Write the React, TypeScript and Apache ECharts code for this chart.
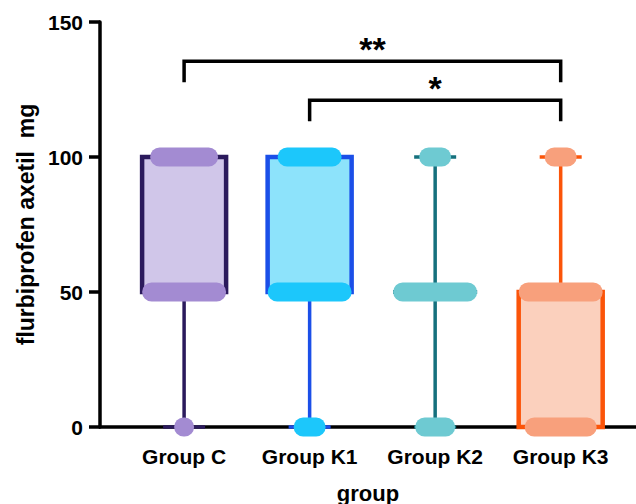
import React, { useEffect, useRef } from "react";
import * as echarts from "echarts";

const groups = ["Group C", "Group K1", "Group K2", "Group K3"];
const yTicks = [0, 50, 100, 150];

// box statistics per group
const mins = [0, 0, 0, 0];
const q1s = [50, 50, 50, 0];
const medians = [50, 50, 50, 50];
const q3s = [100, 100, 50, 50];
const maxs = [100, 100, 100, 100];

// number of overlapping points at each dose level
const levels = [0, 50, 100];
const countsC = [1, 17, 13];
const countsK1 = [4, 17, 12];
const countsK2 = [6, 17, 4];
const countsK3 = [14, 17, 4];

// significance brackets
const bracketFrom = [1, 2];
const bracketTo = [4, 4];
const bracketY = [135.5, 121];
const bracketLabel = ["**", "*"];

const strokeColors = ["#2b1a5c", "#1b4fe8", "#15707d", "#fb5409"];
const fillColors = ["#d0c6e9", "#8de3fb", "transparent", "#fbd0bd"];
const pillColors = ["#a38bd2", "#1cc7fb", "#6ecad2", "#f8a07c"];

const FONT = "'Liberation Sans', Arial, Helvetica, sans-serif";

export default function App() {
  const ref = useRef<HTMLDivElement>(null);
  useEffect(() => {
    if (!ref.current) return;
    const chart = echarts.init(ref.current, null, { renderer: "svg" });

    const boxData = groups.map((_, i) => [i + 1, mins[i], q1s[i], medians[i], q3s[i], maxs[i]]);
    const allCounts = [countsC, countsK1, countsK2, countsK3];
    const pillData: number[][] = [];
    allCounts.forEach((cs, gi) => {
      cs.forEach((n, li) => {
        if (n > 0) pillData.push([gi + 1, levels[li], n, gi]);
      });
    });
    const bracketData = bracketFrom.map((f, i) => [f, bracketTo[i], bracketY[i], i]);

    const option: any = {
      animation: false,
      grid: {
        left: 100,
        right: 0,
        top: 22,
        bottom: 77,
        containLabel: false,
        outerBoundsMode: "none",
      },
      xAxis: {
        type: "value",
        min: 0.33,
        max: 4.6,
        splitLine: { show: false },
        axisLine: { show: true, onZero: false, lineStyle: { color: "#000", width: 3.5 } },
        axisTick: {
          show: true,
          customValues: [1, 2, 3, 4],
          length: 6,
          lineStyle: { color: "#000", width: 3 },
        },
        axisLabel: {
          customValues: [1, 2, 3, 4],
          formatter: (v: number) => groups[Math.round(v) - 1] ?? "",
          color: "#000",
          fontFamily: FONT,
          fontWeight: "bold",
          fontSize: 21,
          margin: 19,
        },
        name: "group",
        nameLocation: "middle",
        nameGap: 55,
        nameTextStyle: { color: "#000", fontFamily: FONT, fontWeight: "bold", fontSize: 22 },
      },
      yAxis: {
        type: "value",
        min: 0,
        max: 150,
        interval: 50,
        splitLine: { show: false },
        axisLine: { show: true, lineStyle: { color: "#000", width: 3.5 } },
        axisTick: { show: true, length: 11, lineStyle: { color: "#000", width: 3.5 } },
        axisLabel: {
          color: "#000",
          fontFamily: FONT,
          fontWeight: "bold",
          fontSize: 21,
          margin: 17,
          formatter: (v: number) => (yTicks.includes(v) ? String(v) : ""),
        },
        name: "flurbiprofen axetil  mg",
        nameLocation: "middle",
        nameGap: 63,
        nameTextStyle: { color: "#000", fontFamily: FONT, fontWeight: "bold", fontSize: 23 },
      },
      series: [
        {
          type: "custom",
          z: 3,
          data: boxData,
          renderItem: (params: any, api: any) => {
            const i = params.dataIndex;
            const x = api.value(0);
            const pMin = api.coord([x, api.value(1)]);
            const pQ1 = api.coord([x, api.value(2)]);
            const pMed = api.coord([x, api.value(3)]);
            const pQ3 = api.coord([x, api.value(4)]);
            const pMax = api.coord([x, api.value(5)]);
            const cx = pQ1[0];
            const hw = 42;
            const cw = 21;
            const color = strokeColors[i];
            const children: any[] = [];
            if (pQ1[1] - pQ3[1] > 0.5) {
              children.push({
                type: "rect",
                shape: { x: cx - hw, y: pQ3[1], width: hw * 2, height: pQ1[1] - pQ3[1] },
                style: { fill: fillColors[i], stroke: color, lineWidth: 4.5 },
              });
            }
            children.push({
              type: "line",
              shape: { x1: cx - hw, y1: pMed[1], x2: cx + hw, y2: pMed[1] },
              style: { stroke: color, lineWidth: 4 },
            });
            if (pMax[1] < pQ3[1] - 0.5) {
              children.push({
                type: "line",
                shape: { x1: cx, y1: pQ3[1], x2: cx, y2: pMax[1] },
                style: { stroke: color, lineWidth: 3.5 },
              });
              children.push({
                type: "line",
                shape: { x1: cx - cw, y1: pMax[1], x2: cx + cw, y2: pMax[1] },
                style: { stroke: color, lineWidth: 3.5 },
              });
            }
            if (pMin[1] > pQ1[1] + 0.5) {
              children.push({
                type: "line",
                shape: { x1: cx, y1: pQ1[1], x2: cx, y2: pMin[1] },
                style: { stroke: color, lineWidth: 3.5 },
              });
              children.push({
                type: "line",
                shape: { x1: cx - cw, y1: pMin[1], x2: cx + cw, y2: pMin[1] },
                style: { stroke: color, lineWidth: 3.5 },
              });
            }
            return { type: "group", children };
          },
        },
        {
          type: "custom",
          z: 4,
          data: pillData,
          renderItem: (params: any, api: any) => {
            const p = api.coord([api.value(0), api.value(1)]);
            const n = api.value(2);
            const gi = api.value(3);
            const w = Math.min(85, 20 + (n - 1) * 4);
            const h = 19;
            return {
              type: "rect",
              shape: { x: p[0] - w / 2, y: p[1] - h / 2, width: w, height: h, r: h / 2 },
              style: { fill: pillColors[gi] },
            };
          },
        },
        {
          type: "custom",
          z: 5,
          data: bracketData,
          renderItem: (params: any, api: any) => {
            const a = api.coord([api.value(0), api.value(2)]);
            const b = api.coord([api.value(1), api.value(2)]);
            const idx = api.value(3);
            const leg = 21;
            return {
              type: "group",
              children: [
                {
                  type: "polyline",
                  shape: {
                    points: [
                      [a[0], a[1] + leg],
                      [a[0], a[1]],
                      [b[0], b[1]],
                      [b[0], b[1] + leg],
                    ],
                  },
                  style: { stroke: "#000", lineWidth: 3.5, fill: "none" },
                },
                {
                  type: "text",
                  x: (a[0] + b[0]) / 2,
                  y: a[1] - 12,
                  style: {
                    text: bracketLabel[idx],
                    fill: "#000",
                    font: `bold 34px ${FONT}`,
                    align: "center",
                    verticalAlign: "middle",
                  },
                },
              ],
            };
          },
        },
      ],
    };
    chart.setOption(option);
    return () => chart.dispose();
  }, []);
  return <div ref={ref} style={{ width: 636, height: 504, position: "absolute", left: 0, top: 0 }} />;
}
